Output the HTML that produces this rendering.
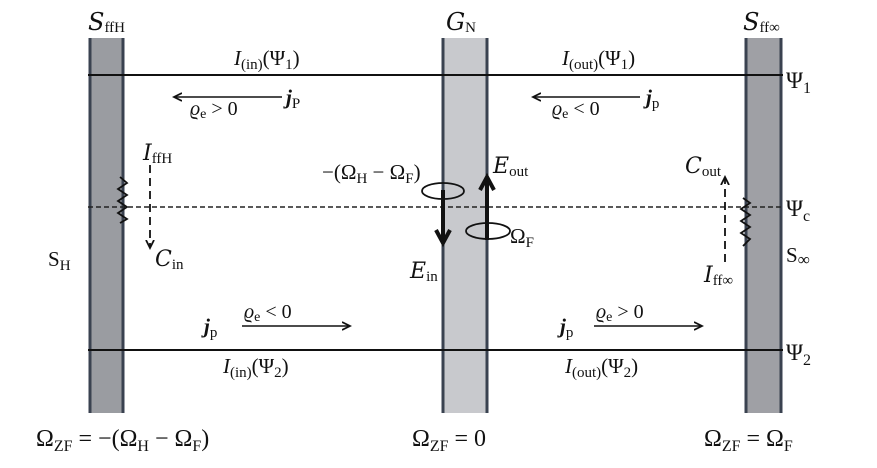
<!DOCTYPE html>
<html><head><style>body{margin:0;background:#fff}svg{display:block}text{font-family:"Liberation Serif",serif;fill:#111}.s{font-family:"DejaVu Serif","Liberation Serif",serif;font-style:italic}</style></head>
<body>
<svg width="877" height="468" viewBox="0 0 877 468" xmlns="http://www.w3.org/2000/svg">
<defs>
<marker id="a" markerWidth="10" markerHeight="10" refX="8" refY="5" orient="auto" markerUnits="userSpaceOnUse"><path d="M0,1 L8,5 L0,9" fill="none" stroke="#111" stroke-width="1.8"/></marker>
<marker id="b" markerWidth="18" markerHeight="18" refX="14" refY="9" orient="auto" markerUnits="userSpaceOnUse"><path d="M1,2 L14,9 L1,16" fill="none" stroke="#111" stroke-width="4"/></marker>
</defs>
<rect x="89" y="38" width="35" height="375" fill="#9a9ca1"/>
<line x1="90" y1="38" x2="90" y2="413" stroke="#3a4250" stroke-width="3"/>
<line x1="123" y1="38" x2="123" y2="413" stroke="#3a4250" stroke-width="3"/>
<rect x="443" y="38" width="44" height="375" fill="#c8c9cd"/>
<line x1="443" y1="38" x2="443" y2="413" stroke="#3a4250" stroke-width="3"/>
<line x1="487" y1="38" x2="487" y2="413" stroke="#3a4250" stroke-width="3"/>
<rect x="746" y="38" width="36" height="375" fill="#9fa0a5"/>
<line x1="746" y1="38" x2="746" y2="413" stroke="#3a4250" stroke-width="3"/>
<line x1="781" y1="38" x2="781" y2="413" stroke="#3a4250" stroke-width="3"/>
<line x1="88" y1="75" x2="783" y2="75" stroke="#111" stroke-width="2"/>
<line x1="88" y1="350" x2="783" y2="350" stroke="#111" stroke-width="2"/>
<line x1="88" y1="207" x2="783" y2="207" stroke="#222" stroke-width="1.5" stroke-dasharray="5,3"/>
<path d="M120,177 L127,183 L118,189 L127,195 L118,201 L127,207 L118,213 L127,219 L120,223" fill="none" stroke="#111" stroke-width="1.8"/>
<path d="M743,198 L750,203 L741,209 L750,215 L741,221 L750,227 L741,233 L750,239 L743,246" fill="none" stroke="#111" stroke-width="1.8"/>
<line x1="150" y1="165" x2="150" y2="248" stroke="#111" stroke-width="1.8" stroke-dasharray="8,5" marker-end="url(#a)"/>
<line x1="725" y1="262" x2="725" y2="177" stroke="#111" stroke-width="1.8" stroke-dasharray="8,5" marker-end="url(#a)"/>
<line x1="282" y1="97" x2="174" y2="97" stroke="#111" stroke-width="1.5" marker-end="url(#a)"/>
<line x1="640" y1="97" x2="533" y2="97" stroke="#111" stroke-width="1.5" marker-end="url(#a)"/>
<line x1="242" y1="326" x2="350" y2="326" stroke="#111" stroke-width="1.5" marker-end="url(#a)"/>
<line x1="594" y1="326" x2="702" y2="326" stroke="#111" stroke-width="1.5" marker-end="url(#a)"/>
<line x1="443" y1="190" x2="443" y2="243" stroke="#111" stroke-width="4" marker-end="url(#b)"/>
<line x1="487" y1="240" x2="487" y2="177" stroke="#111" stroke-width="4" marker-end="url(#b)"/>
<ellipse cx="443" cy="191" rx="21" ry="8" fill="none" stroke="#111" stroke-width="1.8"/>
<ellipse cx="488" cy="231" rx="22" ry="8" fill="none" stroke="#111" stroke-width="1.8"/>
<text x="88" y="30" font-size="24"><tspan class="s">S</tspan><tspan font-size="15" dy="2">ffH</tspan></text>
<text x="446" y="30" font-size="24"><tspan class="s">G</tspan><tspan font-size="15" dy="2">N</tspan></text>
<text x="743" y="30" font-size="24"><tspan class="s">S</tspan><tspan font-size="15" dy="2">ff∞</tspan></text>
<text x="234" y="65" font-size="21"><tspan font-style="italic">I</tspan><tspan font-size="15" dy="4">(in)</tspan><tspan dy="-4">(Ψ</tspan><tspan font-size="15" dy="4">1</tspan><tspan dy="-4">)</tspan></text>
<text x="562" y="65" font-size="21"><tspan font-style="italic">I</tspan><tspan font-size="15" dy="4">(out)</tspan><tspan dy="-4">(Ψ</tspan><tspan font-size="15" dy="4">1</tspan><tspan dy="-4">)</tspan></text>
<text x="190" y="115" font-size="20"><tspan font-style="italic">ϱ</tspan><tspan font-size="14" dy="3">e</tspan><tspan dy="-3"> &gt; 0</tspan></text>
<text x="286" y="104" font-size="21" font-weight="bold" font-style="italic">j<tspan font-size="15" font-weight="normal" font-style="normal" dy="4">P</tspan></text>
<text x="552" y="115" font-size="20"><tspan font-style="italic">ϱ</tspan><tspan font-size="14" dy="3">e</tspan><tspan dy="-3"> &lt; 0</tspan></text>
<text x="646" y="104" font-size="21" font-weight="bold" font-style="italic">j<tspan font-size="15" font-weight="normal" font-style="normal" dy="4">p</tspan></text>
<text x="143" y="160" font-size="22"><tspan class="s">I</tspan><tspan font-size="15" dy="3">ffH</tspan></text>
<text x="155" y="266" font-size="22"><tspan class="s">C</tspan><tspan font-size="15" dy="3">in</tspan></text>
<text x="48" y="266" font-size="21">S<tspan font-size="15" dy="4">H</tspan></text>
<text x="322" y="179" font-size="21">−(Ω<tspan font-size="15" dy="4">H</tspan><tspan dy="-4"> − Ω</tspan><tspan font-size="15" dy="4">F</tspan><tspan dy="-4">)</tspan></text>
<text x="493" y="173" font-size="22"><tspan class="s">E</tspan><tspan font-size="15" dy="3">out</tspan></text>
<text x="410" y="278" font-size="22"><tspan class="s">E</tspan><tspan font-size="15" dy="3">in</tspan></text>
<text x="510" y="243" font-size="21">Ω<tspan font-size="15" dy="4">F</tspan></text>
<text x="685" y="173" font-size="22"><tspan class="s">C</tspan><tspan font-size="15" dy="3">out</tspan></text>
<text x="704" y="282" font-size="22"><tspan class="s">I</tspan><tspan font-size="15" dy="3">ff∞</tspan></text>
<text x="786" y="88" font-size="23">Ψ<tspan font-size="16" dy="5">1</tspan></text>
<text x="786" y="216" font-size="23">Ψ<tspan font-size="16" dy="5">c</tspan></text>
<text x="786" y="262" font-size="21">S<tspan font-size="17" dy="3">∞</tspan></text>
<text x="786" y="360" font-size="23">Ψ<tspan font-size="16" dy="5">2</tspan></text>
<text x="204" y="333" font-size="21" font-weight="bold" font-style="italic">j<tspan font-size="15" font-weight="normal" font-style="normal" dy="4">p</tspan></text>
<text x="244" y="318" font-size="20"><tspan font-style="italic">ϱ</tspan><tspan font-size="14" dy="3">e</tspan><tspan dy="-3"> &lt; 0</tspan></text>
<text x="560" y="333" font-size="21" font-weight="bold" font-style="italic">j<tspan font-size="15" font-weight="normal" font-style="normal" dy="4">p</tspan></text>
<text x="596" y="318" font-size="20"><tspan font-style="italic">ϱ</tspan><tspan font-size="14" dy="3">e</tspan><tspan dy="-3"> &gt; 0</tspan></text>
<text x="223" y="373" font-size="21"><tspan font-style="italic">I</tspan><tspan font-size="15" dy="4">(in)</tspan><tspan dy="-4">(Ψ</tspan><tspan font-size="15" dy="4">2</tspan><tspan dy="-4">)</tspan></text>
<text x="565" y="373" font-size="21"><tspan font-style="italic">I</tspan><tspan font-size="15" dy="4">(out)</tspan><tspan dy="-4">(Ψ</tspan><tspan font-size="15" dy="4">2</tspan><tspan dy="-4">)</tspan></text>
<text x="36" y="446" font-size="24">Ω<tspan font-size="16" dy="5">ZF</tspan><tspan dy="-5"> = −(Ω</tspan><tspan font-size="16" dy="5">H</tspan><tspan dy="-5"> − Ω</tspan><tspan font-size="16" dy="5">F</tspan><tspan dy="-5">)</tspan></text>
<text x="412" y="446" font-size="24">Ω<tspan font-size="16" dy="5">ZF</tspan><tspan dy="-5"> = 0</tspan></text>
<text x="704" y="446" font-size="24">Ω<tspan font-size="16" dy="5">ZF</tspan><tspan dy="-5"> = Ω</tspan><tspan font-size="16" dy="5">F</tspan></text>
</svg>
</body></html>
